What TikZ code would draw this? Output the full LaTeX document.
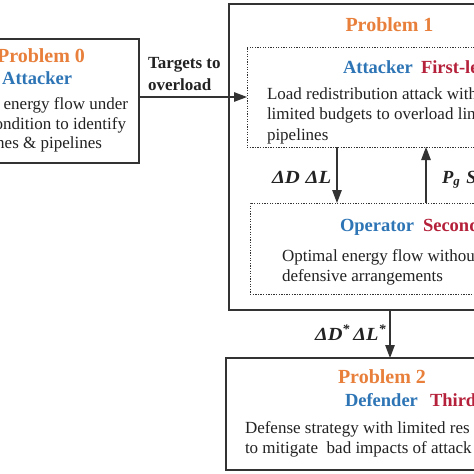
\documentclass[tikz,border=0pt]{standalone}
\usepackage{fontspec}
\setmainfont{Liberation Serif}
\usetikzlibrary{arrows.meta}
\definecolor{porange}{HTML}{E8803C}
\definecolor{pblue}{HTML}{2E75B6}
\definecolor{pred}{HTML}{B5213A}
\definecolor{ink}{HTML}{222222}
\definecolor{edge}{HTML}{333333}
\begin{document}
\begin{tikzpicture}[x=1pt,y=-1pt,
  box/.style={draw=edge,line width=1.3pt,inner sep=0pt,outer sep=0pt,anchor=north west},
  dbox/.style={draw=edge,line width=1pt,dash pattern=on 1.3pt off 1.3pt,inner sep=0pt,outer sep=0pt,anchor=north west},
  txt/.style={inner sep=0pt,outer sep=0pt,text=ink,font=\fontsize{17}{21}\selectfont},
  ttl/.style={inner sep=0pt,outer sep=0pt,text=porange,font=\fontsize{20}{24}\selectfont\bfseries},
  role/.style={inner sep=0pt,outer sep=0pt,font=\fontsize{18.5}{22}\selectfont\bfseries},
  lbl/.style={inner sep=0pt,outer sep=0pt,text=ink,font=\fontsize{17}{21}\selectfont\bfseries},
  mlbl/.style={inner sep=0pt,outer sep=0pt,text=ink,font=\fontsize{18.5}{22}\selectfont\bfseries\itshape},
  arr/.style={draw=edge,line width=1.2pt,-{Triangle[length=13pt,width=9.5pt]}}]
\useasboundingbox (0,0) rectangle (474,474);
\clip (0,0) rectangle (474,474);
\fill[white] (0,0) rectangle (474,474);
% boxes
\node[box,minimum width=159pt,minimum height=124pt] (p0) at (-20,39) {};
\node[box,minimum width=280pt,minimum height=306pt] (p1) at (229,4) {};
\node[dbox,minimum width=260pt,minimum height=100pt] (a1) at (247,47) {};
\node[dbox,minimum width=260pt,minimum height=91pt] (o1) at (250,203) {};
\node[box,minimum width=280pt,minimum height=112pt] (p2) at (226,358) {};
\coordinate (dx) at (337,0);
\coordinate (ux) at (426,0);
\coordinate (bx) at (390,0);
% problem 0 texts
\node[ttl,anchor=base east] (t0) at (85,62) {Problem 0};
\node[role,text=pblue,anchor=base east] (r0) at (72,84) {Attacker};
\node[txt,anchor=base east] (l01) at (128,109) {energy flow under};
\node[txt,anchor=base east] (l02) at (126,129) {condition to identify};
\node[txt,anchor=base east] (l03) at (102,148) {lines \& pipelines};
% problem 1 texts
\node[ttl,anchor=base] (t1) at (389.5,31) {Problem 1};
\node[role,text=pblue,anchor=base west] (r1) at (343,73) {Attacker};
\node[role,text=pred,anchor=base west] (s1) at (421,73) {First-le};
\node[txt,anchor=base west] (l11) at (267,99) {Load redistribution attack with};
\node[txt,anchor=base west] (l12) at (267,119.5) {limited budgets to overload lin};
\node[txt,anchor=base west] (l13) at (267,140) {pipelines};
\node[role,text=pblue,anchor=base west] (r2) at (340,231) {Operator};
\node[role,text=pred,anchor=base west] (s2) at (423,231) {Second};
\node[txt,anchor=base west] (l21) at (282,261) {Optimal energy flow withou};
\node[txt,anchor=base west] (l22) at (282,281) {defensive arrangements};
% problem 2 texts
\node[ttl,anchor=base] (t2) at (382,383) {Problem 2};
\node[role,text=pblue,anchor=base west] (r3) at (345,406) {Defender};
\node[role,text=pred,anchor=base west] (s3) at (430,406) {Third};
\node[txt,anchor=base west] (l31) at (245,433) {Defense strategy with limited res};
\node[txt,anchor=base west] (l32) at (245,453) {to mitigate\ \ bad impacts of attack};
% connectors
\draw[arr] (p0.east |- a1.west) -- (a1.west);
\draw[arr] (a1.south -| dx) -- (o1.north -| dx);
\draw[arr] (o1.north -| ux) -- (a1.south -| ux);
\draw[arr] (p1.south -| bx) -- (p2.north -| bx);
% labels
\node[lbl,anchor=base west] (g1) at (148,68) {Targets to};
\node[lbl,anchor=base west] (g2) at (148,90) {overload};
\node[mlbl,anchor=base west] (g3) at (272,183) {\scalebox{1.12}[1]{ΔD\hspace{5pt}ΔL}};
\node[mlbl,anchor=base west] (g4) at (442,183) {P\textsubscript{g}\hspace{6pt}S};
\node[mlbl,anchor=base west] (g5) at (315,340) {\scalebox{1.1}[1]{ΔD\textsuperscript{*}\hspace{3pt}ΔL\textsuperscript{*}}};
\end{tikzpicture}
\end{document}
